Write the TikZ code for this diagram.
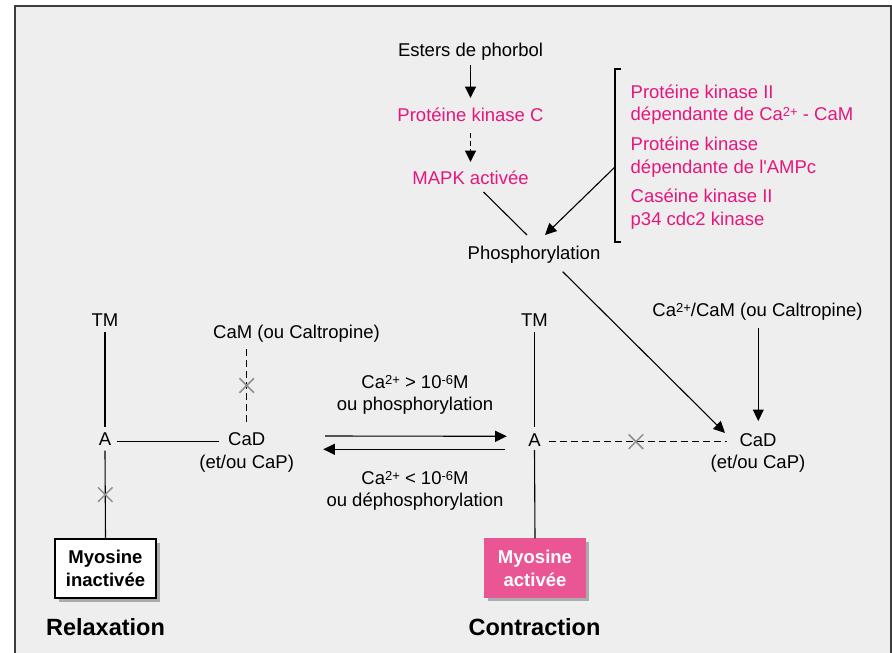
\documentclass[tikz,border=0pt]{standalone}
\usepackage{fontspec}
\setmainfont{Liberation Sans}
\usetikzlibrary{arrows.meta,calc,shadows,shapes.misc}
\definecolor{bgc}{HTML}{EEEEEE}
\definecolor{framec}{HTML}{3C3C3C}
\definecolor{pinkt}{HTML}{E5177E}
\definecolor{pinkb}{HTML}{EA5594}
\definecolor{crossc}{HTML}{8E8E8E}
\definecolor{shadc}{HTML}{ABABAB}
\newcommand\supx[1]{\raisebox{3.9pt}{\fontsize{13}{13}\selectfont #1}}
\begin{document}
\begin{tikzpicture}[x=1pt,y=-1pt,
  lbl/.style={font=\fontsize{18.5}{22.5}\selectfont, inner sep=0pt, anchor=base, align=center},
  pk/.style={font=\fontsize{18.5}{22.5}\selectfont, inner sep=0pt, text=pinkt, anchor=base west, align=left},
  ttl/.style={font=\bfseries\fontsize{23.5}{28}\selectfont, inner sep=0pt, anchor=base},
  boxb/.style={font=\bfseries\fontsize{18.5}{22.5}\selectfont, align=center, minimum width=101pt, minimum height=59pt, inner sep=0pt, line width=1.1pt, drop shadow={shadow xshift=3.5pt, shadow yshift=-3.5pt, fill=shadc, opacity=1}},
  ln/.style={line width=1.1pt},
  arr/.style={ln, -{Triangle[length=11.5pt,width=11pt]}},
  dsh/.style={ln, dash pattern=on 7pt off 4pt},
  crs/.style={cross out, draw=crossc, line width=1.5pt, minimum size=13pt, inner sep=0pt},
]
\useasboundingbox (0,0) rectangle (892,653);
\clip (0,0) rectangle (892,653);
\draw[draw=framec, line width=1.6pt, fill=bgc] (15,6) rectangle (891,680);

% top part
\node[lbl] (esters) at (470.5,56) {Esters de phorbol};
\node[lbl, text=pinkt] (pkc) at (470.5,121) {Protéine kinase C};
\node[lbl, text=pinkt] (mapk) at (470.5,184) {MAPK activée};
\node[lbl] (phos) at (534,259) {Phosphorylation};
% multi-line nodes: base anchor = last line
\node[pk] (pk2) at (630.5,120.7) {Protéine kinase II\\dépendante de Ca\supx{2+} - CaM};
\node[pk] (pka) at (630.5,173) {Protéine kinase\\dépendante de l\textquotesingle AMPc};
\node[pk] (ck2) at (630.5,225.3) {Caséine kinase II\\p34 cdc2 kinase};
\draw[ln] (621,69) -- (615,69) -- (615,242) -- (621,242);
\coordinate (brk) at (615,167);

% right part
\node[lbl] (camR) at (757.5,316) {Ca\supx{2+}/CaM (ou Caltropine)};
\node[lbl] (cadR) at (758,468.5) {CaD\\(et/ou CaP)};
\node[lbl] (tmR) at (534.5,326) {TM};
\node[lbl] (aR) at (534.5,446) {A};
\node[boxb, fill=pinkb, draw=pinkb, text=white] (box2) at (535,568.3) {Myosine\\activée};

% left part
\node[lbl] (tmL) at (105,326) {TM};
\node[lbl] (aL) at (105,445.7) {A};
\node[lbl] (cadL) at (246.7,468.2) {CaD\\(et/ou CaP)};
\node[lbl] (camL) at (296.5,338.3) {CaM (ou Caltropine)};
\node[boxb, fill=white, draw=black] (box1) at (105.5,568.5) {Myosine\\inactivée};

% middle labels
\node[lbl] (up) at (415,410.8) {Ca\supx{2+} > 10\supx{-6}M\\ou phosphorylation};
\node[lbl] (down) at (415,506.5) {Ca\supx{2+} < 10\supx{-6}M\\ou déphosphorylation};

\node[ttl] (relax) at (105.5,635) {Relaxation};
\node[ttl] (contr) at (534.5,635) {Contraction};

% connectors top
\draw[arr] ($(esters.base)+(0,9)$) -- ($(pkc.base)+(0,-23)$);
\draw[arr, dash pattern=on 5pt off 3pt] ($(pkc.base)+(0,12)$) -- ($(mapk.base)+(0,-22)$);
\draw[ln] ($(mapk.base)+(13,8)$) -- ($(phos.base)+(-7,-24)$);
\draw[arr] (brk) -- ($(phos.base)+(11,-24)$);
\draw[arr] ($(phos.base)+(28.7,12.7)$) -- ($(cadR.base)+(-33,-35.5)$);
\draw[arr] ($(camR.base)+(0.8,12)$) -- ($(cadR.base)+(0.3,-47.5)$);

% right connectors
\draw[ln] ($(tmR.base)+(0,6)$) -- ($(aR.base)+(0,-19)$);
\draw[ln] ($(aR.base)+(0,4)$) -- (box2.north);
\draw[dsh] ($(aR.base)+(14,-4.3)$) -- coordinate[pos=0.49] (xr) ($(cadR.base)+(-31,-26.8)$);
\node[crs] (cr) at (xr) {};

% left connectors
\draw[ln] ($(tmL.base)+(0,6)$) -- ($(aL.base)+(0,-19)$);
\draw[ln] ($(aL.base)+(0,5)$) -- coordinate[pos=0.5] (xl1) (box1.north);
\node[crs] (cl1) at (xl1) {};
\draw[ln] ($(aL.base)+(11.7,-4)$) -- ($(cadL.base)+(-27.4,-26.5)$);
\draw[dsh] ($(camL.base)+(-49.8,11)$) -- coordinate[pos=0.5] (xl2) ($(cadL.base)+(0,-46.5)$);
\node[crs] (cl2) at (xl2) {};

% transition arrows
\draw[arr] ($(cadL.base)+(78.3,-32.2)$) -- ($(aR.base)+(-27.8,-9.7)$);
\draw[arr] ($(aR.base)+(-29.5,3.3)$) -- ($(cadL.base)+(76.6,-18.9)$);
\end{tikzpicture}
\end{document}
